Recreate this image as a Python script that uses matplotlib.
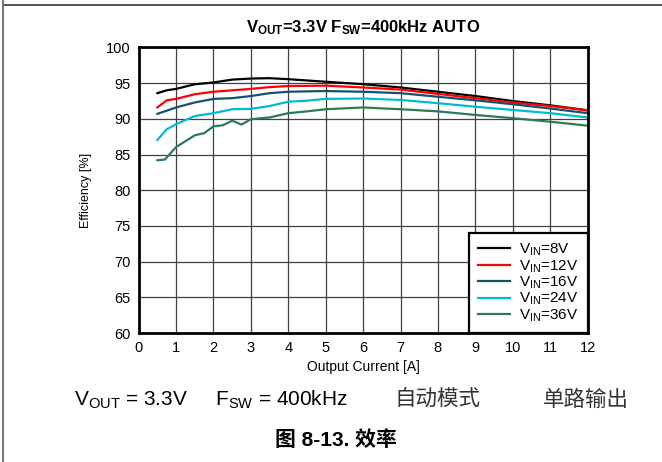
import matplotlib
matplotlib.use('Agg')
import matplotlib.pyplot as plt
from matplotlib.lines import Line2D

plt.rcParams['font.family'] = ['Liberation Sans', 'Noto Sans CJK SC', 'DejaVu Sans']
plt.rcParams['mathtext.fontset'] = 'custom'
plt.rcParams['mathtext.rm'] = 'Liberation Sans'
plt.rcParams['mathtext.bf'] = 'Liberation Sans:bold'
plt.rcParams['mathtext.default'] = 'regular'

# output current [A]
i_8v = [0.5, 0.75, 1, 1.5, 2, 2.5, 3, 3.5, 4, 5, 6, 7, 8, 9, 10, 11, 12]
eff_8v = [93.6, 94.0, 94.2, 94.85, 95.1, 95.5, 95.65, 95.7, 95.56, 95.2, 94.86, 94.4, 93.8, 93.2, 92.5, 91.9, 91.2]

i_12v = [0.5, 0.75, 1, 1.5, 2, 2.5, 3, 3.5, 4, 5, 6, 7, 8, 9, 10, 11, 12]
eff_12v = [91.6, 92.6, 92.8, 93.45, 93.8, 94.0, 94.2, 94.45, 94.6, 94.65, 94.4, 94.1, 93.5, 92.9, 92.3, 91.8, 91.2]

i_16v = [0.5, 1, 1.5, 2, 2.5, 3, 3.5, 4, 5, 6, 7, 8, 9, 10, 11, 12]
eff_16v = [90.7, 91.6, 92.3, 92.8, 92.9, 93.2, 93.6, 93.8, 93.9, 93.8, 93.6, 93.1, 92.6, 92.05, 91.45, 90.8]

i_24v = [0.5, 0.75, 1, 1.5, 2, 2.5, 3, 3.5, 4, 4.5, 5, 6, 7, 8, 9, 10, 11, 12]
eff_24v = [87.05, 88.55, 89.25, 90.4, 90.8, 91.35, 91.4, 91.8, 92.4, 92.55, 92.8, 92.85, 92.65, 92.2, 91.7, 91.25, 90.8, 90.2]

i_36v = [0.5, 0.7, 1, 1.5, 1.75, 2, 2.25, 2.5, 2.75, 3, 3.5, 4, 4.5, 5, 6, 7, 8, 9, 10, 11, 12]
eff_36v = [84.2, 84.3, 86.05, 87.7, 88.0, 88.95, 89.1, 89.75, 89.2, 89.95, 90.2, 90.8, 91.05, 91.35, 91.6, 91.35, 91.05, 90.55, 90.1, 89.6, 89.05]

labels = ['$V_{IN}$=8V', '$V_{IN}$=12V', '$V_{IN}$=16V', '$V_{IN}$=24V', '$V_{IN}$=36V']
colors = ['#000000', '#ff0000', '#16536a', '#00bcd0', '#2d7a55']

fig = plt.figure(figsize=(6.62, 4.62), dpi=100)
ax = fig.add_axes([0.2095, 0.2792, 0.678, 0.618])

series = [(i_8v, eff_8v), (i_12v, eff_12v), (i_16v, eff_16v), (i_24v, eff_24v), (i_36v, eff_36v)]
for (x, y), c, lab in zip(series, colors, labels):
    ax.plot(x, y, color=c, lw=1.6, label=lab)

ax.set_xlim(0, 12)
ax.set_ylim(60, 100)
ax.set_xticks(range(0, 13))
ax.set_yticks(range(60, 101, 5))
ax.grid(True, color='#404040', lw=0.9)
ax.set_axisbelow(True)
ax.tick_params(length=0, labelsize=10.5, pad=6)
for s in ax.spines.values():
    s.set_linewidth(2)
ax.set_xlabel('Output Current [A]', fontsize=10, labelpad=3)
ax.set_ylabel('Efficiency [%]', fontsize=9, labelpad=10)
ax.set_title(r'$\mathbf{V_{OUT}}$=3.3V $\mathbf{F_{SW}}$=400kHz AUTO', fontsize=12, fontweight='bold', pad=11)

leg = ax.legend(loc='lower right', borderaxespad=0, fontsize=11, handlelength=2.1,
                handletextpad=0.6, labelspacing=0.0, fancybox=False, framealpha=1,
                borderpad=0.6)
leg.get_frame().set_edgecolor('black')
leg.get_frame().set_linewidth(1.6)

fig.text(0.112, 0.134, '$V_{OUT}$ = 3.3V     $F_{SW}$ = 400kHz', fontsize=15, va='center')
fig.text(0.596, 0.134, '自动模式', fontsize=15.5, color='#333333', va='center')
fig.text(0.820, 0.134, '单路输出', fontsize=15.5, color='#333333', va='center')
fig.text(0.508, 0.0476, '图 8-13. 效率', fontsize=15, fontweight='bold', ha='center', va='center')

fig.add_artist(Line2D([0.005, 1], [0.989, 0.989], color='#333333', lw=1.2))
fig.add_artist(Line2D([0.005, 0.005], [0, 1], color='#777777', lw=1.5))

fig.savefig('out.png', dpi=100)
